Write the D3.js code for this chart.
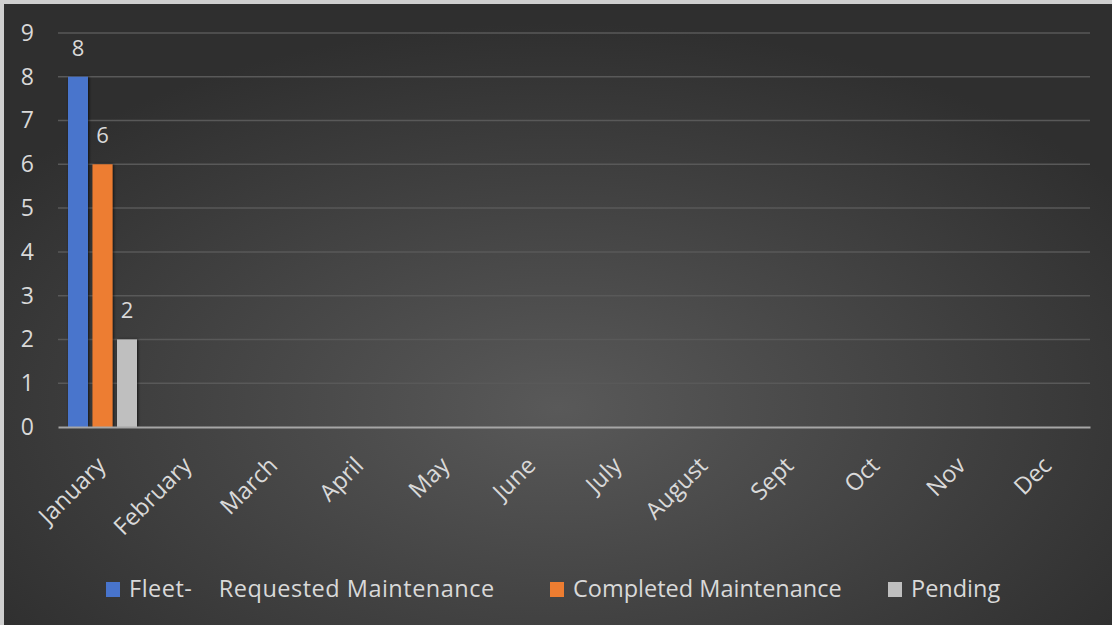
<!DOCTYPE html>
<html>
<head>
<meta charset="utf-8">
<script src="https://cdn.jsdelivr.net/npm/d3@7"></script>
<style>
html,body{margin:0;padding:0;background:#d0d0d0;}
svg{display:block;}
text{font-family:"Open Sans","Noto Sans",sans-serif;}
</style>
</head>
<body>
<svg id="chart" width="1112" height="625"></svg>
<script>
const categories = ["January","February","March","April","May","June","July","August","Sept","Oct","Nov","Dec"];
const seriesNames = ["Fleet-    Requested Maintenance","Completed Maintenance","Pending"];
const requested = [8,null,null,null,null,null,null,null,null,null,null,null];
const completed = [6,null,null,null,null,null,null,null,null,null,null,null];
const pending   = [2,null,null,null,null,null,null,null,null,null,null,null];
const yTicks = [0,1,2,3,4,5,6,7,8,9];
const colors = ["#4874CC","#ED7D31","#BFBFBF"];

const W = 1112, H = 625;
const svg = d3.select("#chart");
const defs = svg.append("defs");
const rg = defs.append("radialGradient").attr("id","bg")
  .attr("cx","50%").attr("cy","65%").attr("r","62%");
rg.append("stop").attr("offset","0%").attr("stop-color","#595959");
rg.append("stop").attr("offset","100%").attr("stop-color","#2f2f2f");
const sh = defs.append("filter").attr("id","shadow").attr("x","-30%").attr("y","-10%").attr("width","160%").attr("height","120%");
sh.append("feDropShadow").attr("dx",1).attr("dy",0).attr("stdDeviation",1.5).attr("flood-color","#000").attr("flood-opacity",0.7);

// frame
svg.append("rect").attr("x",0).attr("y",0).attr("width",W).attr("height",H).attr("fill","#cfcfcf");
svg.append("rect").attr("x",4).attr("y",4).attr("width",W-4).attr("height",H-4).attr("fill","url(#bg)");

const margin = {left:58, right:1090, top:33, bottom:427};
const x = d3.scaleBand().domain(categories).range([margin.left, margin.right]);
const y = d3.scaleLinear().domain([0,9]).range([margin.bottom, margin.top]);

// gridlines
svg.append("g").selectAll("line").data(yTicks.filter(d=>d>0)).join("line")
  .attr("x1",margin.left).attr("x2",margin.right)
  .attr("y1",d=>y(d)).attr("y2",d=>y(d))
  .attr("stroke","#595959").attr("stroke-width",1.5);

// y axis labels
const yAxis = d3.axisLeft(y).tickValues(yTicks).tickSize(0).tickPadding(24);
const gy = svg.append("g").attr("transform",`translate(${margin.left},0)`).call(yAxis);
gy.select(".domain").remove();
gy.selectAll("text").attr("fill","#d9d9d9").style("font-size","23px");

// bars
const series = [requested, completed, pending];
const barW = 20, step = 24.5, offset = 10;
series.forEach((vals, si) => {
  const data = categories.map((c,i)=>({c, v: vals[i]})).filter(d=>d.v!=null);
  svg.append("g").selectAll("rect").data(data).join("rect")
    .attr("x", d=>x(d.c)+offset+si*step)
    .attr("y", d=>y(d.v)).attr("width", barW)
    .attr("height", d=>y(0)-y(d.v))
    .attr("fill", colors[si]).attr("filter","url(#shadow)");
  svg.append("g").selectAll("text").data(data).join("text")
    .attr("x", d=>x(d.c)+offset+si*step+barW/2)
    .attr("y", d=>y(d.v)-21)
    .attr("text-anchor","middle").attr("fill","#d9d9d9").style("font-size","22px")
    .text(d=>d.v);
});

// x axis
const xAxis = d3.axisBottom(x).tickSize(0).tickPadding(0);
const gx = svg.append("g").attr("transform",`translate(0,${margin.bottom})`).call(xAxis);
gx.select(".domain").attr("stroke","#a6a6a6").attr("stroke-width",2);
gx.selectAll("text").attr("fill","#d9d9d9").style("font-size","23.5px")
  .attr("text-anchor","end").attr("dy",0).attr("y",0)
  .attr("transform","translate(6,40) rotate(-45)");

// legend
const legendX = [106, 550, 888];
const lg = svg.append("g");
seriesNames.forEach((n,i)=>{
  lg.append("rect").attr("x",legendX[i]).attr("y",582).attr("width",14).attr("height",15).attr("fill",colors[i]);
  lg.append("text").attr("x",legendX[i]+23).attr("y",597).attr("fill","#d9d9d9")
    .style("font-size","23.5px").style("white-space","pre").attr("xml:space","preserve")
    .style("letter-spacing", i===0 ? "0.5px" : "0px").text(n);
});
</script>
</body>
</html>
